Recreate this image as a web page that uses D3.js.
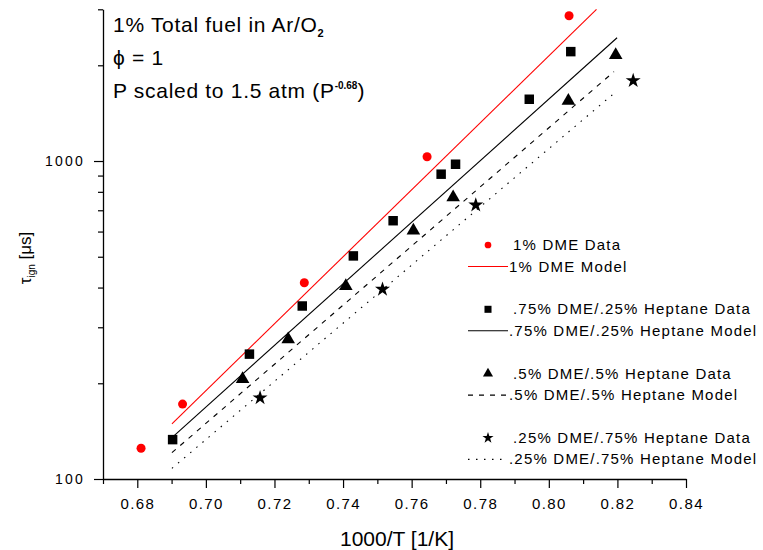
<!DOCTYPE html>
<html><head><meta charset="utf-8">
<script src="https://cdn.jsdelivr.net/npm/d3@7"></script>
<style>
body{margin:0;background:#fff;}
svg{display:block;font-family:"Liberation Sans",Arial,sans-serif;}
</style></head>
<body><svg id="c" width="763" height="550"></svg>
<script>
// ---- data ----
const dmeX = [0.6811, 0.6932, 0.7287, 0.7645, 0.8059];
const dmeY = [125, 172, 414, 1031, 2864];
const dme75X = [0.6903, 0.7127, 0.7281, 0.7430, 0.7546, 0.7686, 0.7728, 0.7943, 0.8064];
const dme75Y = [133, 247, 350, 503, 649, 909, 977, 1564, 2208];
const dme50X = [0.7107, 0.7240, 0.7408, 0.7605, 0.7721, 0.8057, 0.8195];
const dme50Y = [206, 275, 404, 604, 769, 1546, 2154];
const dme25X = [0.7158, 0.7515, 0.7787, 0.8246];
const dme25Y = [180, 395, 727, 1790];

const modelDmeX = [0.6901, 0.8139], modelDmeY = [149, 3000];
const model75X = [0.6901, 0.8199], model75Y = [135, 2442];
const model50X = [0.6901, 0.8190], model50Y = [121, 1910];
const model25X = [0.6901, 0.8199], model25Y = [108, 1663];

const xMajorTicks = [0.68, 0.70, 0.72, 0.74, 0.76, 0.78, 0.80, 0.82, 0.84];
const xMinorTicks = [0.67, 0.69, 0.71, 0.73, 0.75, 0.77, 0.79, 0.81, 0.83];
const yMajorTicks = [100, 1000];
const yMinorTicks = [200, 300, 400, 500, 600, 700, 800, 900, 2000, 3000];

const legendLabels = [
  "1% DME Data", "1% DME Model",
  ".75% DME/.25% Heptane Data", ".75% DME/.25% Heptane Model",
  ".5% DME/.5% Heptane Data", ".5% DME/.5% Heptane Model",
  ".25% DME/.75% Heptane Data", ".25% DME/.75% Heptane Model"
];

// ---- scales ----
const svg = d3.select("#c");
svg.append("rect").attr("width",763).attr("height",550).attr("fill","#fff");
const x = d3.scaleLinear().domain([0.67, 0.84]).range([103, 686]);
const y = d3.scaleLog().domain([100, 3000]).range([479, 9.3]);

// ---- axes ----
const gx = svg.append("g").attr("transform", `translate(0,${y(100)})`);
gx.call(d3.axisBottom(x).tickValues(xMajorTicks).tickFormat(d3.format(".2f")).tickSize(9).tickPadding(10).tickSizeOuter(0));
gx.append("g").call(d3.axisBottom(x).tickValues(xMinorTicks).tickFormat("").tickSize(5).tickSizeOuter(0)).select(".domain").remove();
gx.selectAll("text").attr("font-size",15).attr("letter-spacing","1.4px").attr("fill","#000").attr("font-family","Liberation Sans, Arial, sans-serif");

const gy = svg.append("g").attr("transform", `translate(${x(0.67)},0)`);
gy.call(d3.axisLeft(y).tickValues(yMajorTicks).tickFormat(d3.format("d")).tickSize(9).tickPadding(9).tickSizeOuter(0));
gy.append("g").call(d3.axisLeft(y).tickValues(yMinorTicks).tickFormat("").tickSize(5).tickSizeOuter(0)).select(".domain").remove();
gy.selectAll("text").attr("font-size",14).attr("letter-spacing","2.2px").attr("fill","#000").attr("font-family","Liberation Sans, Arial, sans-serif");
svg.selectAll(".domain").attr("stroke","#000").attr("stroke-width",1.3);
svg.selectAll(".tick line").attr("stroke","#000").attr("stroke-width",1.2);

// ---- axis titles ----
svg.append("text").attr("x",397).attr("y",546).attr("text-anchor","middle")
  .attr("font-size",21).text("1000/T [1/K]");
const yt = svg.append("text").attr("transform","translate(31,258) rotate(-90)")
  .attr("text-anchor","middle").attr("font-size",17);
yt.append("tspan").text("τ");
yt.append("tspan").attr("font-size",10).attr("dy",4).text("ign");
yt.append("tspan").attr("dy",-4).text(" [μs]");

// ---- annotations ----
const a1 = svg.append("text").attr("x",113).attr("y",32).attr("font-size",21).attr("letter-spacing","0.7px");
a1.append("tspan").text("1% Total fuel in Ar/O");
a1.append("tspan").attr("font-size",11).attr("font-weight","bold").attr("dy",5).text("2");
svg.append("text").attr("x",113).attr("y",65).attr("font-size",21).attr("letter-spacing","0.7px").text("ϕ = 1");
const a3 = svg.append("text").attr("x",113).attr("y",98).attr("font-size",21).attr("letter-spacing","0.7px");
a3.append("tspan").text("P scaled to 1.5 atm (P");
a3.append("tspan").attr("font-size",10).attr("font-weight","bold").attr("letter-spacing","0px").attr("dy",-9).text("-0.68");
a3.append("tspan").attr("dy",9).text(")");

// ---- model lines ----
const line = d3.line().x(d => x(d[0])).y(d => y(d[1]));
const models = [
  {xs: modelDmeX, ys: modelDmeY, color: "#ff0000", dash: null},
  {xs: model75X, ys: model75Y, color: "#000", dash: null},
  {xs: model50X, ys: model50Y, color: "#000", dash: "5,6"},
  {xs: model25X, ys: model25Y, color: "#000", dash: "1.5,6.5"}
];
models.forEach(m => {
  svg.append("path").datum(m.xs.map((v,i)=>[v, m.ys[i]]))
    .attr("d", line).attr("fill","none").attr("stroke", m.color)
    .attr("stroke-width",1.1).attr("stroke-dasharray", m.dash);
});

// ---- data markers ----
const symTypes = {circle:d3.symbolCircle, square:d3.symbolSquare, triangle:d3.symbolTriangle, star:d3.symbolStar};
const series = [
  {xs: dmeX, ys: dmeY, type: "circle", size: 64, color: "#ff0000"},
  {xs: dme75X, ys: dme75Y, type: "square", size: 90, color: "#000"},
  {xs: dme50X, ys: dme50Y, type: "triangle", size: 80, color: "#000"},
  {xs: dme25X, ys: dme25Y, type: "star", size: 70, color: "#000"}
];
series.forEach(s => {
  svg.append("g").selectAll("path").data(s.xs.map((v,i)=>[v, s.ys[i]])).join("path")
    .attr("transform", d => `translate(${x(d[0])},${y(d[1])})`)
    .attr("d", d3.symbol().type(symTypes[s.type]).size(s.size))
    .attr("fill", s.color);
});

// ---- legend ----
const leg = svg.append("g");
series.forEach((s, i) => {
  const yd = 245 + i * 64.3;
  const ym = yd + 21.5;
  leg.append("path").attr("transform", `translate(488,${yd})`)
    .attr("d", d3.symbol().type(symTypes[s.type]).size(s.size*0.55))
    .attr("fill", s.color);
  leg.append("text").attr("x",513).attr("y",yd+5).attr("font-size",15).attr("letter-spacing","1.2px")
    .text(legendLabels[i*2]);
  const m = models[i];
  leg.append("line").attr("x1",468).attr("x2",508).attr("y1",ym).attr("y2",ym)
    .attr("stroke", m.color).attr("stroke-width",1.1).attr("stroke-dasharray", m.dash);
  leg.append("text").attr("x",509).attr("y",ym+5).attr("font-size",15).attr("letter-spacing","1.2px")
    .text(legendLabels[i*2+1]);
});
</script></body></html>
